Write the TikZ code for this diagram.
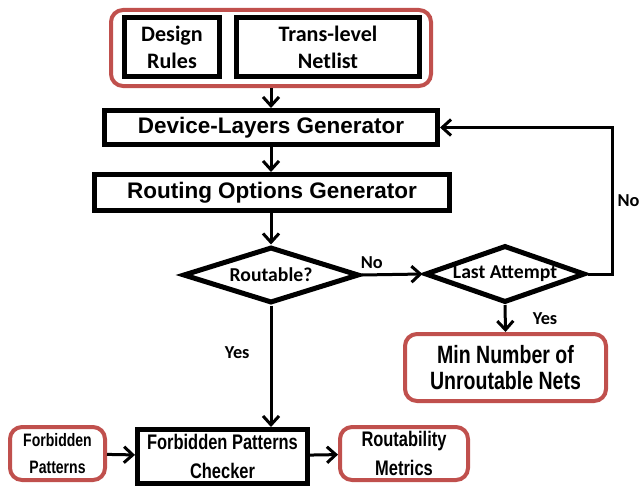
\documentclass[tikz,border=0pt]{standalone}
\usepackage{fontspec}
\setmainfont{Carlito}
\newfontfamily\arialfont{Liberation Sans}
\newfontfamily\narrowfont[FakeStretch=0.78]{Liberation Sans}
\usetikzlibrary{arrows.meta,shapes.geometric}

\definecolor{boxred}{RGB}{192,80,77}

\tikzset{
  dims/.style 2 args={minimum width=#1*0.25mm, minimum height=#2*0.25mm},
  box/.style={draw, rectangle, line width=1.25mm, inner sep=0pt, align=center},
  redbox/.style={draw=boxred, rectangle, rounded corners=3mm, line width=1mm, inner sep=0pt, align=center},
  decision/.style={draw, diamond, line width=1.25mm, inner sep=0pt, miter limit=12,
    font=\bfseries\fontsize{14}{17}\selectfont},
  flow/.style={line width=0.75mm, -{Straight Barb[length=2.2mm, width=4mm]}},
  answer/.style={inner sep=0pt, font=\bfseries\fontsize{13}{15}\selectfont},
  bigtext/.style={font=\arialfont\bfseries\fontsize{16}{19}\selectfont},
  calitext/.style={font=\bfseries\fontsize{15.7}{19}\selectfont},
  narrowtext/.style 2 args={font=\narrowfont\bfseries\fontsize{#1}{#2}\selectfont},
}

\begin{document}
\begin{tikzpicture}[x=0.25mm, y=-0.25mm]
  \useasboundingbox (0,0) rectangle (639,487);

  % Inputs
  \node[redbox, dims={320}{76}] (inputs) at (271,48) {};
  \node[box, calitext, dims={95}{59}] (rules) at (172,47) {Design\\Rules};
  \node[box, calitext, dims={183}{59}] (netlist) at (328,47) {Trans-level\\Netlist};

  % Generators
  \node[box, bigtext, dims={333}{34}] (devgen) at (271,127.5) {Device-Layers Generator};
  \node[box, bigtext, dims={355}{36}] (routgen) at (272,192.5) {Routing Options Generator};

  % Decisions
  \node[decision, aspect=3.14, dims={176}{56}] (routable) at (271,275) {Routable?};
  \node[decision, aspect=2.8, dims={160}{57}] (lastatt) at (505,274) {Last Attempt};

  % Outputs
  \node[redbox, narrowtext={17.8}{18}, dims={201}{67}] (minnets) at (505.5,367.5) {Min Number of\\Unroutable Nets};
  \node[redbox, narrowtext={12.8}{19}, dims={95}{53}] (forbpat) at (57.5,453.5) {Forbidden\\Patterns};
  \node[box, narrowtext={15}{20}, dims={170}{54}] (checker) at (222.5,456.5) {Forbidden Patterns\\Checker};
  \node[redbox, narrowtext={15}{20}, dims={128}{53}] (metrics) at (404,453.5) {Routability\\Metrics};

  % Flow
  \draw[flow] (inputs) -- (inputs.south |- devgen.north);
  \draw[flow] (devgen) -- (devgen.south |- routgen.north);
  \draw[flow] (routable.north |- routgen.south) -- (routable.north);
  \draw[flow] (routable.east) -- node[answer, pos=0.17, above=1.2mm] {No} (lastatt.west);
  \draw[flow] (lastatt.east) -- ++(25,0) |- node[answer, pos=0.25, right=0.9mm] {No} (devgen.east);
  \draw[flow] (lastatt.south) -- node[answer, midway, right=6.5mm] {Yes} (minnets.north);
  \draw[flow] (routable.south) -- node[answer, pos=0.39, left=5mm] {Yes} (routable.south |- checker.north);
  \draw[flow] (forbpat) -- (checker);
  \draw[flow] (checker) -- (metrics);
\end{tikzpicture}
\end{document}
